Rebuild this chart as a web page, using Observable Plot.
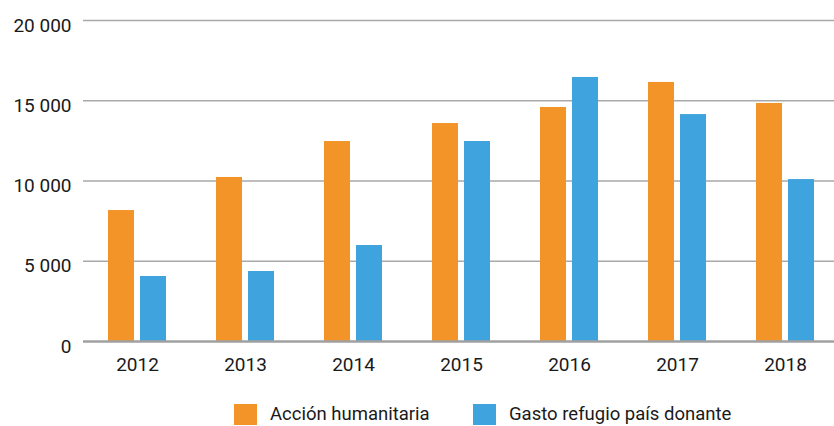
<!DOCTYPE html>
<html>
<head>
<meta charset="utf-8">
<script src="https://cdn.jsdelivr.net/npm/d3@7"></script>
<script src="https://cdn.jsdelivr.net/npm/@observablehq/plot@0.6"></script>
<style>
  html, body { margin: 0; padding: 0; background: #fff; }
  #wrap { position: relative; width: 834px; height: 426px; font-family: Roboto, "Liberation Sans", sans-serif; color: #1a1a1a; }
  .item { position: absolute; top: 404px; display: flex; align-items: center; font-size: 18.5px; line-height: 21px; }
  .sw { width: 23px; height: 21px; margin-right: 13px; }
</style>
</head>
<body>
<div id="wrap"></div>
<script>
const years = ["2012", "2013", "2014", "2015", "2016", "2017", "2018"];
const seriesNames = ["Acción humanitaria", "Gasto refugio país donante"];
const accionHumanitaria = [8160, 10220, 12460, 13580, 14580, 16140, 14830];
const gastoRefugio = [4050, 4360, 5980, 12460, 16450, 14140, 10090];
const yTicks = [0, 5000, 10000, 15000, 20000];
const colors = ["#F29428", "#3FA3DD"];

const data = [];
years.forEach((y, i) => {
  data.push({year: y, series: seriesNames[0], value: accionHumanitaria[i]});
  data.push({year: y, series: seriesNames[1], value: gastoRefugio[i]});
});

const fmt = d => d3.format(",")(d).replace(/,/g, " ");

const chart = Plot.plot({
  width: 834,
  height: 380,
  marginTop: 20,
  marginBottom: 39,
  marginLeft: 83,
  marginRight: 0,
  style: {fontFamily: 'Roboto, "Liberation Sans", sans-serif', fontSize: "18.5px", color: "#1a1a1a", background: "#fff"},
  x: {domain: years, range: [83, 839], paddingInner: 0.463, paddingOuter: 0.2315, label: null},
  y: {domain: [0, 20000], label: null},
  color: {domain: seriesNames, range: colors},
  marks: [
    Plot.ruleY(yTicks.filter(d => d > 0), {stroke: "#a9a9a9", strokeWidth: 1.6, strokeOpacity: 1}),
    Plot.barY(data.filter(d => d.series === seriesNames[0]), {x: "year", y: "value", fill: "series", insetRight: 32}),
    Plot.barY(data.filter(d => d.series === seriesNames[1]), {x: "year", y: "value", fill: "series", insetLeft: 32}),
    Plot.ruleY([0], {stroke: "#a0a0a0", strokeWidth: 2.5}),
    Plot.axisY({ticks: yTicks, tickFormat: fmt, tickSize: 0, tickPadding: 12, dy: 5, fontSize: 19}),
    Plot.axisX({tickSize: 0, tickPadding: 16, fontSize: 19})
  ]
});

const wrap = document.getElementById("wrap");
wrap.appendChild(chart);

const lefts = [234, 473];
seriesNames.forEach((name, i) => {
  const item = document.createElement("div");
  item.className = "item";
  item.style.left = lefts[i] + "px";
  const sw = document.createElement("div");
  sw.className = "sw";
  sw.style.background = colors[i];
  const t = document.createElement("span");
  t.textContent = name;
  item.appendChild(sw);
  item.appendChild(t);
  wrap.appendChild(item);
});
</script>
</body>
</html>
